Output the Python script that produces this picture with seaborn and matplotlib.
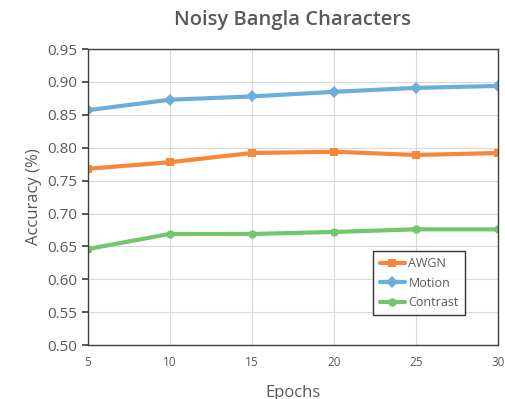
import matplotlib
matplotlib.use("Agg")
import matplotlib.pyplot as plt
import seaborn as sns
import pandas as pd

epochs = [5, 10, 15, 20, 25, 30]
awgn = [0.768, 0.778, 0.792, 0.794, 0.789, 0.792]
motion = [0.857, 0.873, 0.878, 0.885, 0.891, 0.894]
contrast = [0.646, 0.669, 0.669, 0.672, 0.676, 0.676]
series_names = ["AWGN", "Motion", "Contrast"]
y_ticks = [0.50, 0.55, 0.60, 0.65, 0.70, 0.75, 0.80, 0.85, 0.90, 0.95]

sns.set_theme(style="white")
plt.rcParams['font.family'] = ['Open Sans', 'DejaVu Sans']

df = pd.DataFrame({
    "Epochs": epochs * 3,
    "Accuracy": awgn + motion + contrast,
    "Series": sum([[n] * len(epochs) for n in series_names], []),
})

palette = {"AWGN": "#F7873A", "Motion": "#6AAED9", "Contrast": "#72C66C"}
markers = {"AWGN": "s", "Motion": "D", "Contrast": "o"}

fig = plt.figure(figsize=(5.06, 3.99), dpi=100)
ax = fig.add_axes([0.173, 0.135, 0.811, 0.742])
sns.lineplot(data=df, x="Epochs", y="Accuracy", hue="Series", style="Series",
             palette=palette, markers=markers, dashes=False, linewidth=3,
             markersize=6, markeredgewidth=0, ax=ax)

text_col = "#595959"
ax.set_xlim(5, 30)
ax.set_ylim(0.50, 0.95)
ax.set_xticks(epochs)
ax.set_yticks(y_ticks)
ax.set_yticklabels([f"{v:.2f}" for v in y_ticks])
ax.grid(True, color="#D9D9D9", linewidth=0.8)
ax.tick_params(axis="x", direction="in", length=3, labelsize=8.5, colors=text_col, pad=8)
ax.tick_params(axis="y", direction="out", length=4, labelsize=11, colors=text_col, left=True)
ax.tick_params(axis="both", color="#404040")
for s in ax.spines.values():
    s.set_color("#404040")
    s.set_linewidth(1)
ax.set_xlabel("Epochs", fontsize=12, color=text_col, labelpad=11)
ax.set_ylabel("Accuracy (%)", fontsize=12, color=text_col)
ax.set_title("Noisy Bangla Characters", fontsize=14.5, color=text_col, pad=17,
             fontweight="semibold")

leg = ax.legend(loc="lower right", bbox_to_anchor=(0.935, 0.08), fontsize=9,
                frameon=True, fancybox=False, edgecolor="black", handlelength=2,
                handletextpad=0.3, borderpad=0.5, labelspacing=0.5)
leg.get_frame().set_linewidth(1)
for t in leg.get_texts():
    t.set_color(text_col)

fig.savefig("out.png", dpi=100)
